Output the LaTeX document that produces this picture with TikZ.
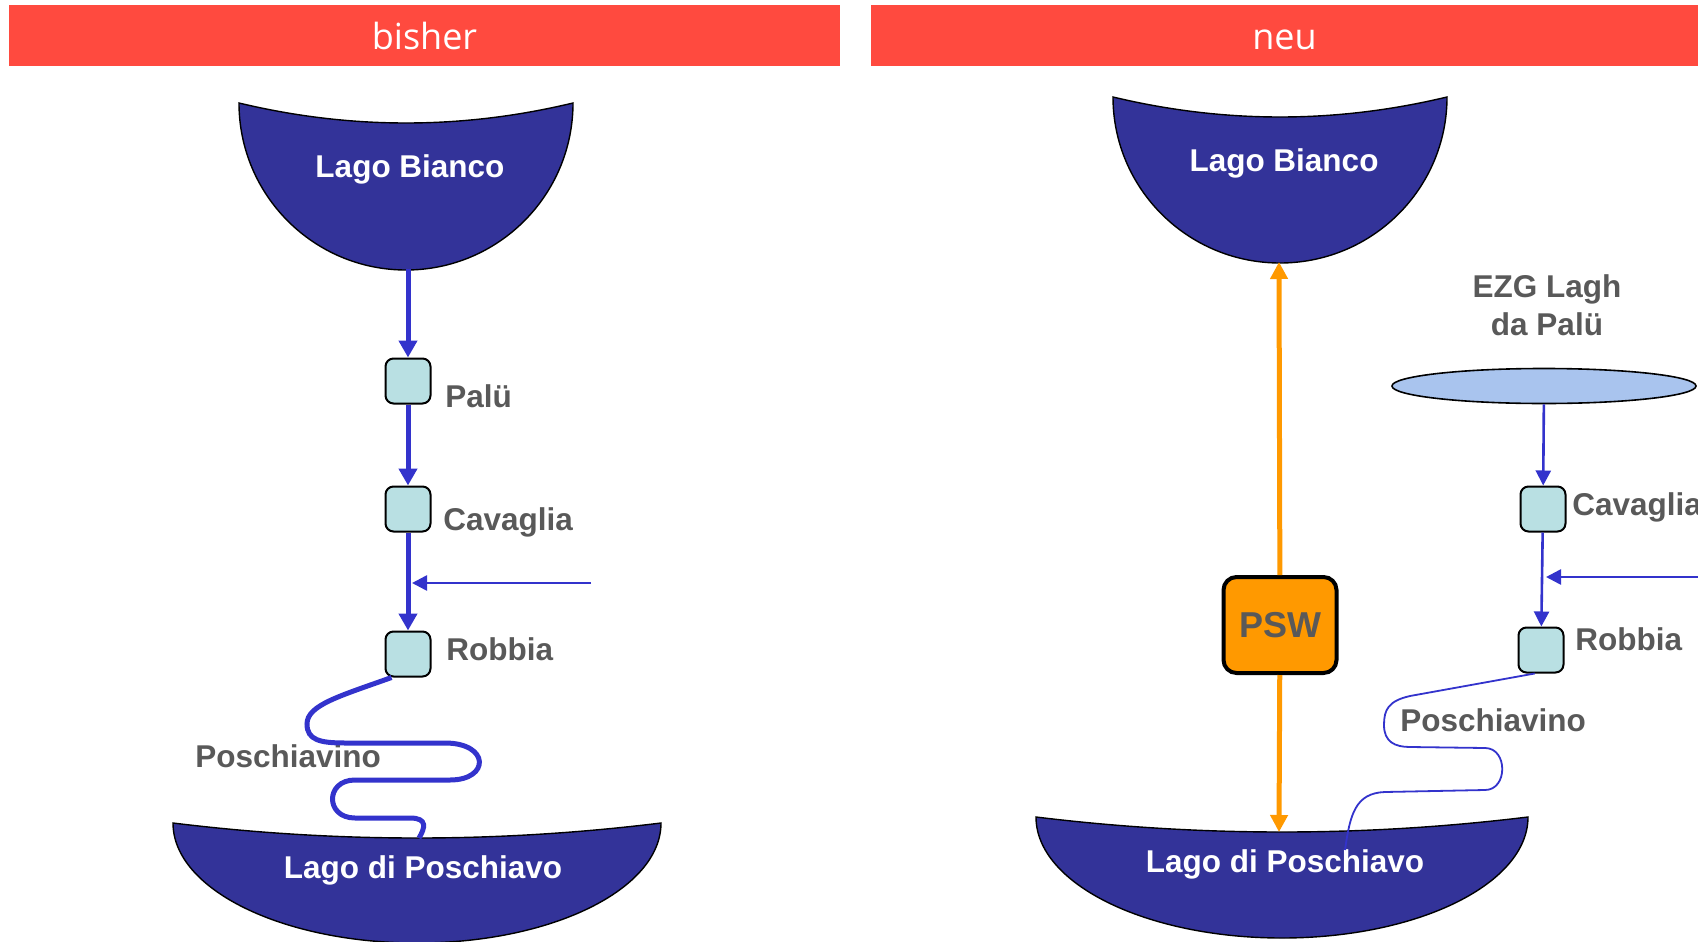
\documentclass[tikz,border=0pt]{standalone}
\usepackage{fontspec}
\setmainfont{Liberation Sans}
\newfontfamily\headfont{Open Sans}
\usetikzlibrary{arrows.meta,shapes.geometric}
\definecolor{lakeblue}{RGB}{51,51,153}
\definecolor{riverblue}{RGB}{51,51,204}
\definecolor{stationfill}{RGB}{185,224,227}
\definecolor{headred}{RGB}{255,74,63}
\definecolor{labelgray}{RGB}{89,89,89}
\definecolor{catchfill}{RGB}{169,196,238}
\definecolor{pumporange}{RGB}{255,153,0}
\newcommand{\lake}[5]{\filldraw[lakeline] (#1-#3,#2) .. controls (#1-#3,#2+0.5523*#4) and (#1-0.5523*#3,#2+#4) .. (#1,#2+#4) .. controls (#1+0.5523*#3,#2+#4) and (#1+#3,#2+0.5523*#4) .. (#1+#3,#2) .. controls (#1+#3/3,#2+4/3*#5) and (#1-#3/3,#2+4/3*#5) .. cycle;}
\begin{document}
\begin{tikzpicture}[x=0.5pt,y=-0.5pt,
  header/.style={fill=headred, text=white, font=\headfont\fontsize{18}{20}\selectfont, minimum height=30.5pt, text height=13.5pt, text depth=0pt, inner sep=0pt},
  station/.style={draw, fill=stationfill, line width=1pt, rounded corners=4pt, minimum size=22.5pt, inner sep=0pt},
  tag/.style={text=labelgray, font=\bfseries\fontsize{15.75}{19}\selectfont, inner sep=0pt},
  laketext/.style={text=white, font=\bfseries\fontsize{15.75}{19}\selectfont, inner sep=0pt},
  lakeline/.style={fill=lakeblue, draw=black, line width=0.7pt},
  catchment/.style={ellipse, draw, fill=catchfill, line width=0.8pt, minimum width=152pt, minimum height=17.5pt, inner sep=0pt},
  river/.style={draw=riverblue, line width=2.5pt, -{Triangle[length=8.5pt,width=9pt]}},
  brook/.style={draw=riverblue, line width=1.3pt, -{Triangle[length=7.5pt,width=7.5pt]}},
  meander/.style={draw=riverblue, line width=2.5pt},
  rill/.style={draw=riverblue, line width=0.9pt},
  pump/.style={draw=pumporange, line width=2.5pt, -{Triangle[length=8.5pt,width=8.5pt]}}]
\useasboundingbox (0,0) rectangle (1698,942);
\node (bisher) [header, minimum width=415.5pt] at (424.5,35.5) {bisher};
\node (neu) [header, minimum width=413.5pt] at (1284.5,35.5) {neu};
\lake{406}{103}{167}{167}{20}
\lake{1280}{97}{167}{166}{20}
\lake{417}{823}{244}{120}{15}
\lake{1282}{817}{246}{121}{15}
\node (tbianL) [laketext, anchor=base] at (410,177) {Lago Bianco};
\node (tbianR) [laketext, anchor=base] at (1284,171) {Lago Bianco};
\node (tposchL) [laketext, anchor=base] at (423,878) {Lago di Poschiavo};
\node (tposchR) [laketext, anchor=base] at (1285,872) {Lago di Poschiavo};
\coordinate (bianL) at (408,269);
\coordinate (inL) at (591,583);
\coordinate (jL) at (412,583);
\coordinate (mouthL) at (419,838);
\coordinate (bianR) at (1279,262);
\coordinate (poschR) at (1279,832);
\coordinate (inR) at (1698,577);
\coordinate (jR) at (1546,577);
\coordinate (mouthR) at (1345,850);
\node (palu) [station] at (408,381) {};
\node (cavL) [station] at (408,509) {};
\node (robL) [station] at (408,654) {};
\node (catch) [catchment] at (1544,386) {};
\node (cavR) [station] at (1543,509) {};
\node (robR) [station] at (1541,650) {};
\node (psw) [draw, fill=pumporange, line width=2pt, rounded corners=6.5pt, minimum width=56.5pt, minimum height=48pt, inner sep=0pt, text=labelgray, font=\bfseries\fontsize{18}{20}\selectfont] at (1280,625) {PSW};
\node (tpalu) [tag, anchor=base west] at (445,407) {Palü};
\node (tcavL) [tag, anchor=base west] at (443,530) {Cavaglia};
\node (trobL) [tag, anchor=base west] at (446,660) {Robbia};
\node (tcavR) [tag, anchor=base west] at (1572,515) {Cavaglia};
\node (trobR) [tag, anchor=base west] at (1575,650) {Robbia};
\node (tposL) [tag, anchor=base west] at (195,767) {Poschiavino};
\node (tposR) [tag, anchor=base west] at (1400,731) {Poschiavino};
\node (ezg) [tag, align=center] at (1547,305) {EZG Lagh\\da Palü};
\draw[river] (bianL) -- (palu);
\draw[river] (palu) -- (cavL);
\draw[river] (cavL) -- (robL);
\draw[brook] (inL) -- (jL);
\draw[meander] (robL.235) .. controls (340,696) and (307,705) .. (307,724)
  .. controls (307,740) and (320,743) .. (345,743) -- (445,743)
  .. controls (490,743) and (490,780) .. (450,780) -- (355,780)
  .. controls (325,780) and (325,818) .. (355,818) -- (410,818)
  .. controls (428,818) and (425,828) .. (mouthL);
\draw[brook] (catch) -- (cavR);
\draw[brook] (cavR) -- (robR);
\draw[brook] (inR) -- (jR);
\draw[rill] (robR.255) -- (1410,696) .. controls (1388,701) and (1384,710) .. (1384,725)
  .. controls (1384,742) and (1395,747) .. (1410,747) -- (1485,748)
  .. controls (1508,748) and (1508,790) .. (1485,790) -- (1385,792)
  .. controls (1355,793) and (1350,815) .. (mouthR);
\draw[pump] (psw) -- (bianR);
\draw[pump] (psw) -- (poschR);
\end{tikzpicture}
\end{document}
